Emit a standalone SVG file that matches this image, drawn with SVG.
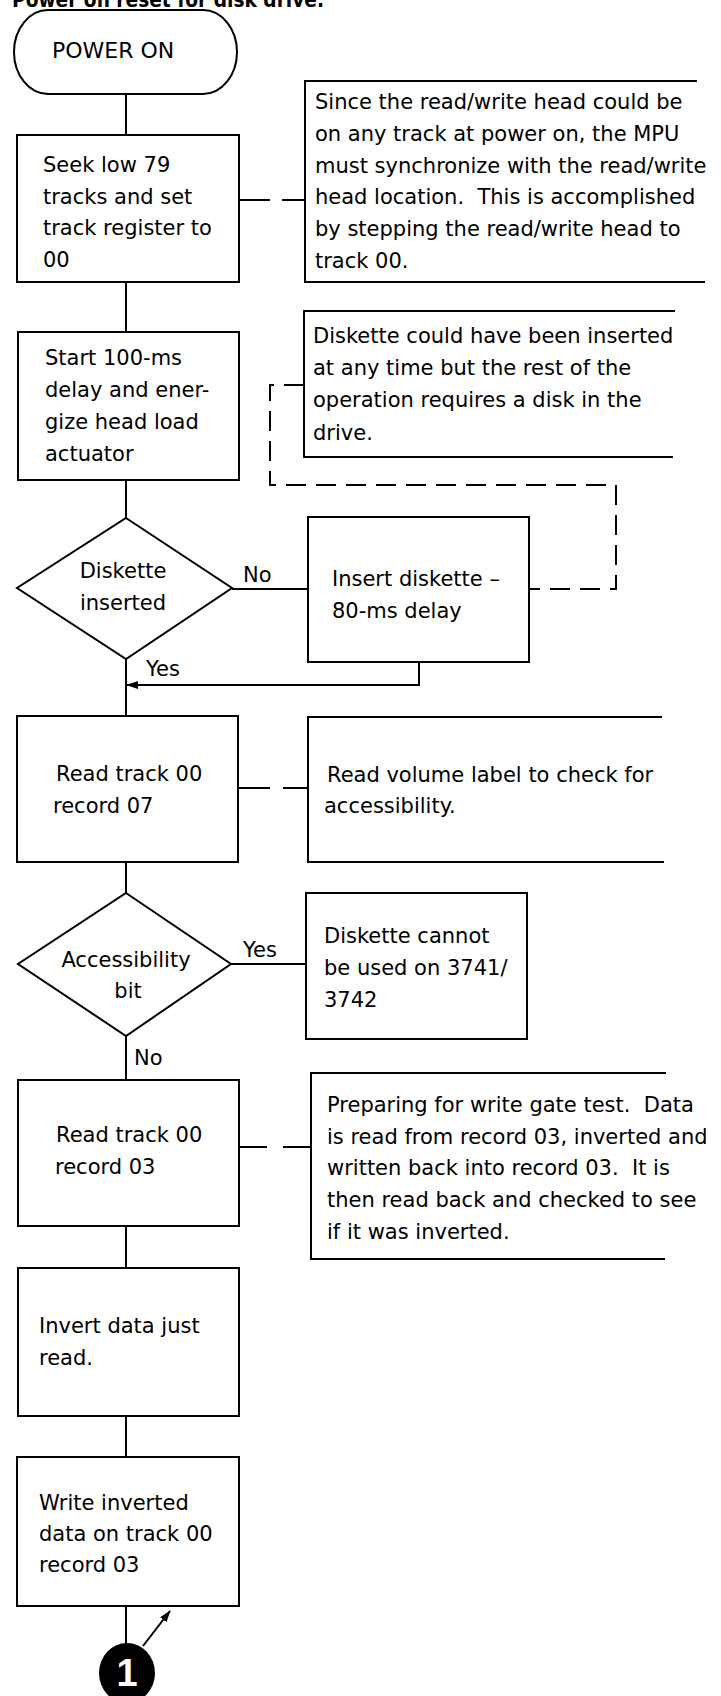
<svg xmlns="http://www.w3.org/2000/svg" width="721" height="1696" viewBox="0 0 721 1696">
<defs>
<style>
.b{fill:none;stroke:#000;stroke-width:2}
.c{fill:none;stroke:#000;stroke-width:2}
.d{fill:none;stroke:#000;stroke-width:2;stroke-dasharray:20 10}
text{font-family:"DejaVu Sans","Liberation Sans",sans-serif;font-size:21px;fill:#000}
.m{text-anchor:middle}
.t{font-weight:bold}
.p{font-size:22px}
.n{font-family:"Liberation Sans",sans-serif;font-size:38px;font-weight:bold;fill:#fff;text-anchor:middle}
</style>
<marker id="ah" markerWidth="12" markerHeight="8" refX="11" refY="4" orient="auto" markerUnits="userSpaceOnUse"><path d="M0,0 L12,4 L0,8 z" fill="#000"/></marker>
</defs>
<rect width="721" height="1696" fill="#fff"/>
<text class="t" x="12" y="6.5" textLength="312" lengthAdjust="spacingAndGlyphs">Power on reset for disk drive.</text>

<g id="connectors">
<path class="c" d="M126,94V135M126,282V332M126,480V518M126,659V716M126,862V893M126,1036V1080M126,1226V1268M126,1416V1457M126,1606V1643"/>
<path class="c" d="M232,589H308"/>
<path class="c" d="M419,662V685H127" marker-end="url(#ah)"/>
<path class="c" d="M231,964H306"/>
<path class="c" d="M239,200H270M282,200H305"/>
<path class="c" d="M238,788H270M283,788H308"/>
<path class="c" d="M239,1147H267M283,1147H311"/>
<path class="d" d="M304,385H270V485H616V589H529"/>
<path class="c" d="M143,1646L170,1611" marker-end="url(#ah)"/>
</g>

<g id="power-on">
<rect class="b" x="14" y="10" width="223" height="84" rx="34" ry="42"/>
<text class="p" x="52" y="58">POWER ON</text>
</g>

<g id="seek">
<rect class="b" x="17" y="135" width="222" height="147"/>
<text x="43" y="172">Seek low 79</text>
<text x="43" y="203.5">tracks and set</text>
<text x="43" y="235">track register to</text>
<text x="43" y="266.5">00</text>
</g>

<g id="note1">
<path class="b" d="M697,81H305V282H705"/>
<text x="315" y="109">Since the read/write head could be</text>
<text x="315" y="141">on any track at power on, the MPU</text>
<text x="315" y="172.5">must synchronize with the read/write</text>
<text x="315" y="204">head location.&#160; This is accomplished</text>
<text x="315" y="236">by stepping the read/write head to</text>
<text x="315" y="268">track 00.</text>
</g>

<g id="start-delay">
<rect class="b" x="18" y="332" width="221" height="148"/>
<text x="45" y="365">Start 100-ms</text>
<text x="45" y="397">delay and ener-</text>
<text x="45" y="429">gize head load</text>
<text x="45" y="461">actuator</text>
</g>

<g id="note2">
<path class="b" d="M675,311H304V457H673"/>
<text x="313" y="343">Diskette could have been inserted</text>
<text x="313" y="375">at any time but the rest of the</text>
<text x="313" y="407">operation requires a disk in the</text>
<text x="313" y="440">drive.</text>
</g>

<g id="diskette-inserted">
<polygon class="b" points="126,518 232,588 126,659 17,588"/>
<text class="m" x="123" y="578">Diskette</text>
<text class="m" x="123" y="610">inserted</text>
</g>
<text x="243" y="582">No</text>

<g id="insert-diskette">
<rect class="b" x="308" y="517" width="221" height="145"/>
<text x="332" y="586">Insert diskette –</text>
<text x="332" y="618">80-ms delay</text>
</g>
<text x="146" y="676">Yes</text>

<g id="read-07">
<rect class="b" x="17" y="716" width="221" height="146"/>
<text x="56" y="781">Read track 00</text>
<text x="53" y="813">record 07</text>
</g>

<g id="note3">
<path class="b" d="M662,717H308V862H664"/>
<text x="327" y="782">Read volume label to check for</text>
<text x="324" y="813">accessibility.</text>
</g>

<g id="accessibility">
<polygon class="b" points="126,893 231,964 126,1036 18,964"/>
<text class="m" x="126" y="967">Accessibility</text>
<text class="m" x="128" y="998">bit</text>
</g>
<text x="243" y="957">Yes</text>

<g id="cannot-use">
<rect class="b" x="306" y="893" width="221" height="146"/>
<text x="324" y="943">Diskette cannot</text>
<text x="324" y="975">be used on 3741/</text>
<text x="324" y="1007">3742</text>
</g>
<text x="134" y="1065">No</text>

<g id="read-03">
<rect class="b" x="18" y="1080" width="221" height="146"/>
<text x="56" y="1142">Read track 00</text>
<text x="55" y="1174">record 03</text>
</g>

<g id="note4">
<path class="b" d="M666,1073H311V1259H665"/>
<text x="327" y="1112">Preparing for write gate test.&#160; Data</text>
<text x="327" y="1143.5">is read from record 03, inverted and</text>
<text x="327" y="1175">written back into record 03.&#160; It is</text>
<text x="327" y="1207">then read back and checked to see</text>
<text x="327" y="1239">if it was inverted.</text>
</g>

<g id="invert">
<rect class="b" x="18" y="1268" width="221" height="148"/>
<text x="39" y="1333">Invert data just</text>
<text x="39" y="1365">read.</text>
</g>

<g id="write-inverted">
<rect class="b" x="17" y="1457" width="222" height="149"/>
<text x="39" y="1510">Write inverted</text>
<text x="39" y="1541">data on track 00</text>
<text x="39" y="1572">record 03</text>
</g>

<g id="connector-1">
<ellipse cx="127" cy="1673" rx="28" ry="30" fill="#000"/>
<text class="n" x="127" y="1686">1</text>
</g>
</svg>
